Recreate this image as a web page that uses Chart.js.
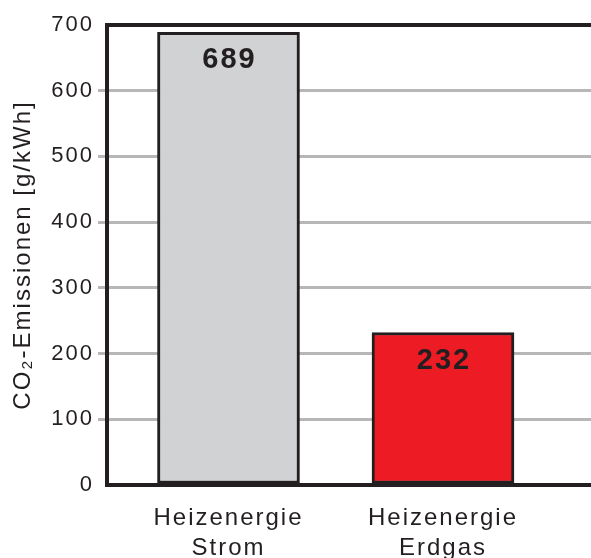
<!DOCTYPE html>
<html>
<head>
<meta charset="utf-8">
<script src="https://cdn.jsdelivr.net/npm/chart.js@4.4.1/dist/chart.umd.min.js"></script>
<style>
    html, body { margin: 0; padding: 0; background: #ffffff; }
    #wrap { width: 591px; height: 558px; position: relative; }
</style>
</head>
<body>
<div id="wrap"><canvas id="co2Chart"></canvas></div>
<script>
var categories = [['Heizenergie', 'Strom'], ['Heizenergie', 'Erdgas']];
var emissions = [689, 232];
var barColors = ['#d1d2d4', '#ed1c24'];
var yTicks = [0, 100, 200, 300, 400, 500, 600, 700];
var yTitle = 'CO\u2082-Emissionen [g/kWh]';

var ink = '#231f20';
var gridGray = '#b7b7b7';
var fontFamily = '"Liberation Sans", Arial, Helvetica, sans-serif';

// spaced-out lettering like the print original
var letterSpacingPlugin = {
    id: 'letterSpacing',
    beforeLayout: function (chart) { chart.ctx.letterSpacing = '2px'; },
    beforeDraw: function (chart) { chart.ctx.letterSpacing = '2px'; }
};

var valueLabels = {
    id: 'valueLabels',
    afterDatasetsDraw: function (chart) {
        var ctx = chart.ctx;
        var meta = chart.getDatasetMeta(0);
        ctx.save();
        ctx.letterSpacing = '2px';
        ctx.font = 'bold 29px ' + fontFamily;
        ctx.fillStyle = ink;
        ctx.textAlign = 'center';
        ctx.textBaseline = 'middle';
        meta.data.forEach(function (bar, i) {
            ctx.fillText(String(emissions[i]), bar.x + 1, bar.y + 28);
        });
        ctx.restore();
    }
};

var points = emissions.map(function (v, i) { return { x: i + 1, y: v }; });

new Chart(document.getElementById('co2Chart'), {
    type: 'bar',
    data: {
        datasets: [{
            data: points,
            backgroundColor: barColors,
            borderColor: ink,
            borderWidth: 3,
            borderSkipped: false,
            barThickness: 142
        }]
    },
    options: {
        responsive: true,
        maintainAspectRatio: false,
        animation: false,
        layout: { padding: { top: 25, right: 0, left: 0, bottom: 0 } },
        plugins: {
            legend: { display: false },
            tooltip: { enabled: false }
        },
        scales: {
            x: {
                type: 'linear',
                offset: false,
                min: 0.4336,
                max: 2.69,
                afterBuildTicks: function (axis) {
                    axis.ticks = categories.map(function (c, i) { return { value: i + 1 }; });
                },
                afterFit: function (axis) { axis.height = 73; },
                grid: { display: false, drawTicks: false },
                border: { color: ink, width: 4 },
                ticks: {
                    autoSkip: false,
                    maxRotation: 0,
                    padding: 18,
                    color: ink,
                    font: { family: fontFamily, size: 24, lineHeight: 1.25 },
                    callback: function (value) { return categories[value - 1]; }
                }
            },
            y: {
                min: 0,
                max: 700,
                afterBuildTicks: function (axis) {
                    axis.ticks = yTicks.map(function (v) { return { value: v }; });
                },
                afterFit: function (axis) { axis.width = 107; },
                grid: {
                    color: function (c) {
                        if (c.tick.value === 700) return ink;
                        if (c.tick.value === 0) return 'rgba(0,0,0,0)';
                        return gridGray;
                    },
                    lineWidth: function (c) { return c.tick.value === 700 ? 4 : 3; },
                    tickColor: function (c) {
                        return (c.tick.value === 0 || c.tick.value === 700) ? 'rgba(0,0,0,0)' : gridGray;
                    },
                    tickWidth: 3,
                    tickLength: 9
                },
                border: { color: ink, width: 4 },
                ticks: {
                    padding: 4,
                    color: ink,
                    font: { family: fontFamily, size: 22 }
                },
                title: {
                    display: true,
                    text: yTitle,
                    color: ink,
                    padding: { top: 9, bottom: 0 },
                    font: { family: fontFamily, size: 24 }
                }
            }
        }
    },
    plugins: [letterSpacingPlugin, valueLabels]
});
</script>
</body>
</html>
